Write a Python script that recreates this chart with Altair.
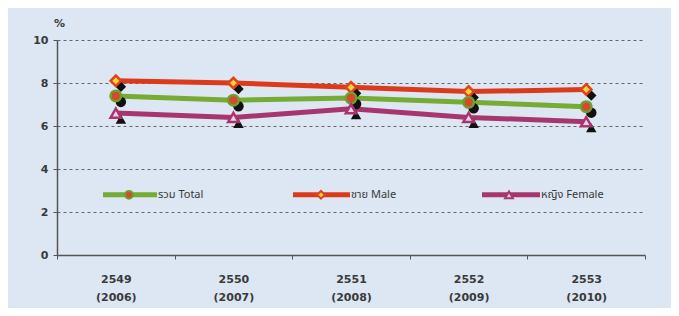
import altair as alt
import pandas as pd

years = ["2549 (2006)", "2550 (2007)", "2551 (2008)", "2552 (2009)", "2553 (2010)"]
total = [7.4, 7.2, 7.3, 7.1, 6.9]
male = [8.1, 8.0, 7.8, 7.6, 7.7]
female = [6.6, 6.4, 6.8, 6.4, 6.2]

series_names = ["รวม  Total", "ชาย  Male", "หญิง  Female"]
line_colors = ["#76ab34", "#dd3a1c", "#a8366e"]
marker_fill = ["#d8482a", "#f7d23c", "#ecd0e6"]
marker_stroke = ["#6f9f30", "#e0421c", "#a8366e"]
shapes = ["circle", "diamond", "triangle-up"]

# legend layout (pixels inside the plot area)
legend_y = 2.8
legend_line_x = [(46, 100), (236, 293), (425, 483)]
legend_marker_x = [72, 264, 452]
legend_text_x = [101, 294, 484]

FONT = "DejaVu Sans"
THAI = "Noto Sans Thai, Loma, Garuda, Tahoma, DejaVu Sans"

x_scale = alt.Scale(type="band", paddingInner=0, paddingOuter=0)
x_axis = alt.Axis(
    title=None,
    tickBand="extent",
    labelExpr="split(datum.label, ' ')",
    labelLineHeight=18,
    labelPadding=14,
    labelAngle=0,
    labelFont=FONT,
    labelFontSize=11,
    labelFontWeight="bold",
    labelColor="#3a3a3a",
    domainColor="#555555",
    domainWidth=1.5,
    tickColor="#555555",
    tickSize=4,
    grid=False,
)
x_enc = alt.X("year:N", sort=years, scale=x_scale, axis=x_axis)
x_shadow = alt.X("year:N", sort=years, scale=x_scale, axis=x_axis, bandPosition=0.543)

y_scale = alt.Scale(domain=[0, 10], nice=False, zero=True)
y_enc = alt.Y(
    "value:Q",
    scale=y_scale,
    axis=alt.Axis(
        values=[0, 2, 4, 6, 8, 10],
        title="%",
        titleAngle=0,
        titleAlign="center",
        titleBaseline="alphabetic",
        titleX=2,
        titleY=-14,
        titleFont=FONT,
        titleFontSize=11,
        titleFontWeight="bold",
        titleColor="#3a3a3a",
        labelFont=FONT,
        labelFontSize=11,
        labelFontWeight="bold",
        labelColor="#3a3a3a",
        labelPadding=5,
        tickSize=4,
        tickColor="#555555",
        domainColor="#555555",
        domainWidth=1.5,
        grid=True,
        gridColor="#666666",
        gridDash=[3, 3],
        gridWidth=1,
    ),
)

layers = []
all_values = [total, male, female]
order = [1, 0, 2]  # draw male, total, female
for i in order:
    df = pd.DataFrame({"year": years, "value": all_values[i]})
    layers.append(
        alt.Chart(df).mark_line(color=line_colors[i], strokeWidth=5).encode(x=x_enc, y=y_enc)
    )
for i in order:
    df = pd.DataFrame({"year": years, "value": all_values[i]})
    base = alt.Chart(df)
    layers.append(
        base.mark_point(shape=shapes[i], filled=True, color="#111111", size=110, opacity=1).encode(
            x=x_shadow, y=y_enc, yOffset=alt.value(6)
        )
    )
    layers.append(
        base.mark_point(
            shape=shapes[i], filled=True, fill=marker_fill[i], stroke=marker_stroke[i],
            strokeWidth=2.5, size=110, opacity=1,
        ).encode(x=x_enc, y=y_enc)
    )

# legend
for i in range(3):
    x0, x1 = legend_line_x[i]
    one = pd.DataFrame({"a": [0]})
    layers.append(
        alt.Chart(one).mark_rule(color=line_colors[i], strokeWidth=5).encode(
            x=alt.value(x0), x2=alt.value(x1), y=alt.datum(legend_y, scale=y_scale)
        )
    )
    layers.append(
        alt.Chart(one).mark_point(
            shape=shapes[i], filled=True, fill=marker_fill[i], stroke=marker_stroke[i],
            strokeWidth=2, size=60, opacity=1,
        ).encode(x=alt.value(legend_marker_x[i]), y=alt.datum(legend_y, scale=y_scale))
    )
    layers.append(
        alt.Chart(one).mark_text(
            text=series_names[i], align="left", baseline="middle",
            font=THAI, fontSize=11, color="#3a3a3a",
        ).encode(x=alt.value(legend_text_x[i]), y=alt.datum(legend_y, scale=y_scale))
    )

chart = (
    alt.layer(*layers)
    .properties(
        width=588,
        height=215,
        background="#dce7f3",
        autosize=alt.AutoSizeParams(type="none"),
        padding={"left": 49, "top": 32, "right": 26, "bottom": 53},
    )
    .configure_view(stroke=None)
)

chart.save("out.html", embed_options={"renderer": "svg", "actions": False})
